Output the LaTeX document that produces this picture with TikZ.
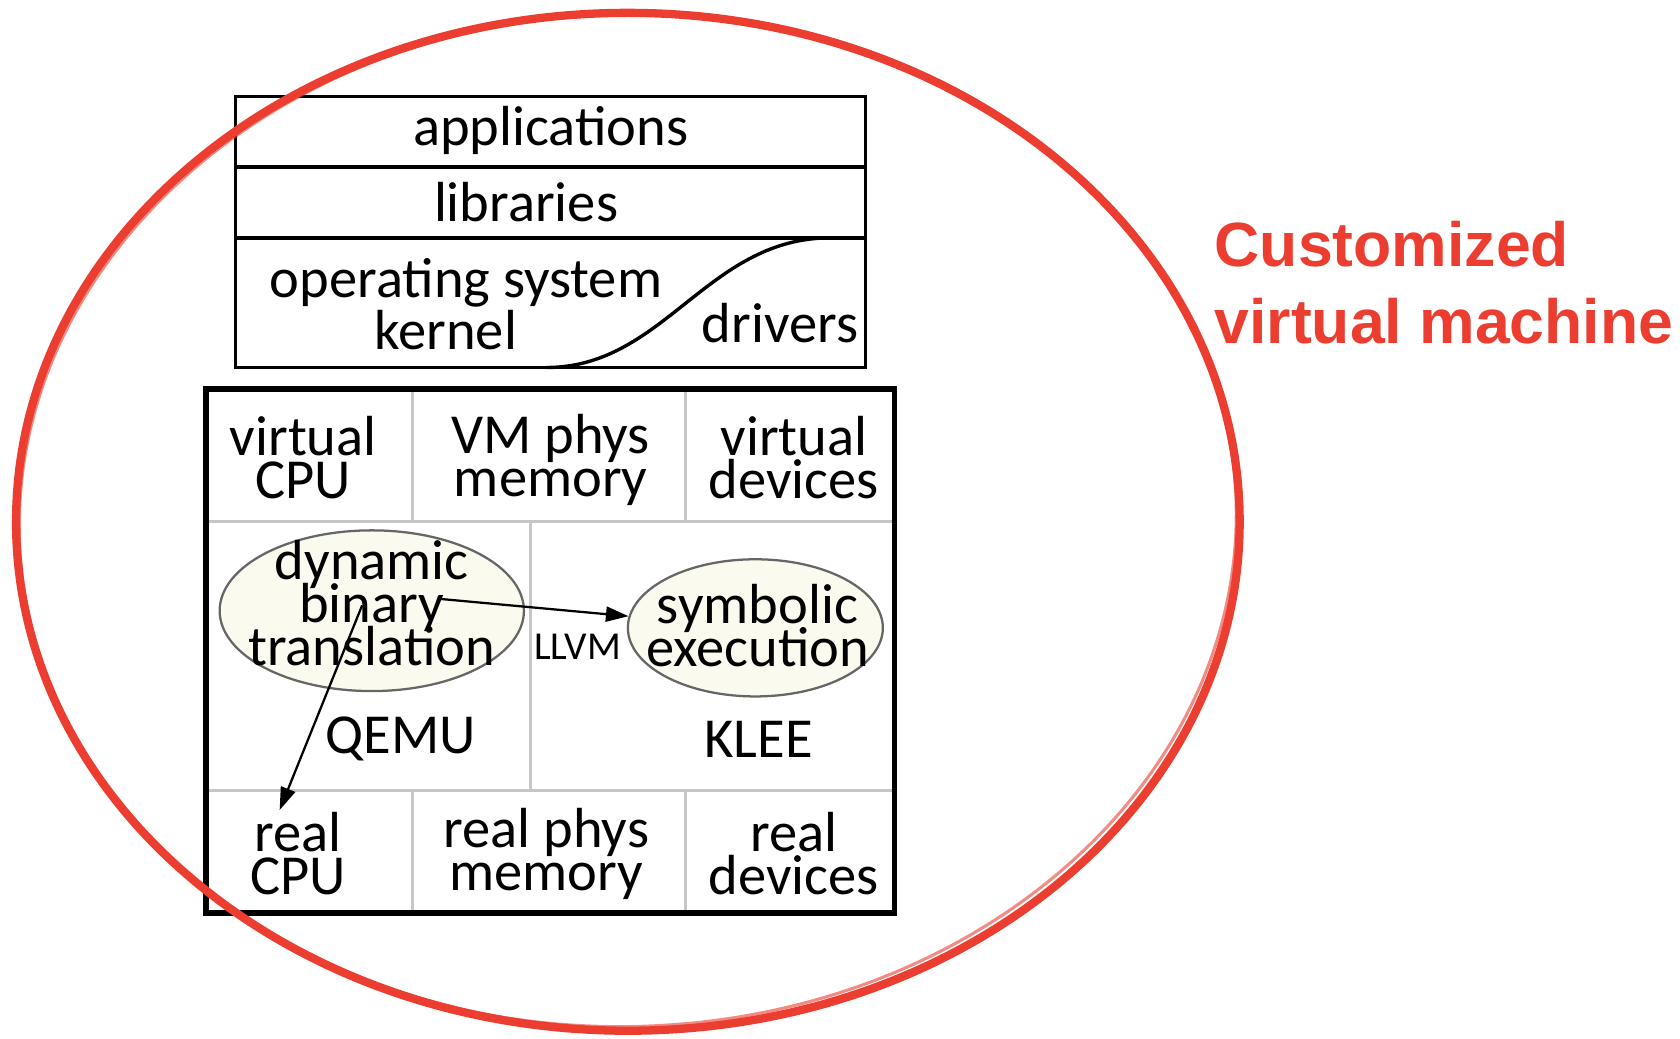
\documentclass[tikz,border=0pt]{standalone}
\usepackage{fontspec}
\setmainfont{Carlito}
\newfontfamily\headfont{Liberation Sans}
\usetikzlibrary{shapes.geometric,arrows.meta}
\definecolor{vmred}{RGB}{236,62,48}
\definecolor{eggshell}{RGB}{250,250,238}

\begin{document}
\begin{tikzpicture}[
  cell/.style={font={\fontsize{15}{11.5}\selectfont\lineskiplimit=-20pt},align=center,inner sep=0pt},
  small/.style={font=\fontsize{10.5}{12}\selectfont,inner sep=0pt},
  bubble/.style={ellipse,draw=gray!80!black,fill=eggshell,line width=0.6pt,inner sep=0pt},
  grid/.style={gray!45,line width=0.9pt},
  flow/.style={-{Triangle[length=6pt,width=4pt]},line width=0.6pt}
]
\useasboundingbox (0,0) rectangle (15.68,9.69);

% Guest software stack
\draw[line width=0.9pt] (2.20,6.26) rectangle (8.08,8.79);
\draw[line width=0.9pt] (2.20,8.13) -- (8.08,8.13);
\draw[line width=0.9pt] (2.20,7.47) -- (8.08,7.47);
\draw[line width=0.9pt] (5.10,6.26) .. controls (6.20,6.26) and (6.60,7.47) .. (7.75,7.47);
\node[cell] (apps) at (5.14,8.47) {applications};
\node[cell] (libs) at (4.91,7.80) {libraries};
\node[cell] (os) at (4.35,7.05) {operating system};
\node[cell] (kern) at (4.16,6.61) {kernel};
\node[cell] (drv) at (7.28,6.67) {drivers};

% S2E platform
\draw[grid] (1.92,4.82) -- (8.35,4.82);
\draw[grid] (1.92,2.31) -- (8.35,2.31);
\draw[grid] (3.85,4.82) -- (3.85,6.06);
\draw[grid] (6.40,4.82) -- (6.40,6.06);
\draw[grid] (4.95,2.31) -- (4.95,4.82);
\draw[grid] (3.85,1.17) -- (3.85,2.31);
\draw[grid] (6.40,1.17) -- (6.40,2.31);
\draw[line width=1.5pt] (1.92,1.17) rectangle (8.35,6.06);

% virtual hardware
\node[cell] (vcpu) at (2.83,5.42) {virtual\\CPU};
\node[cell] (vmem) at (5.14,5.40) {VM phys\\memory};
\node[cell] (vdev) at (7.41,5.42) {virtual\\devices};

% engines
\node[bubble,minimum width=2.84cm,minimum height=1.50cm] (dbt) at (3.47,3.99) {};
\node[cell] (dbttext) at (3.47,4.06) {dynamic\\binary\\translation};
\node[bubble,minimum width=2.38cm,minimum height=1.28cm] (symb) at (7.05,3.83) {};
\node[cell] (symbtext) at (7.07,3.85) {symbolic\\execution};
\node[small] (llvm) at (5.39,3.65) {LLVM};
\node[cell] (qemu) at (3.74,2.79) {QEMU};
\node[cell] (klee) at (7.08,2.79) {KLEE};

% real hardware
\node[cell] (rcpu) at (2.78,1.72) {real\\CPU};
\node[cell] (rmem) at (5.10,1.72) {real phys\\memory};
\node[cell] (rdev) at (7.41,1.72) {real\\devices};

% translation paths
\coordinate (tolvm) at (4.11,4.10);
\coordinate (tohw) at (3.38,4.04);
\coordinate (cpuin) at (2.61,2.13);
\draw[flow] (tolvm) -- (symb);
\draw[flow] (tohw) -- (cpuin);

% the customized VM
\draw[vmred,line width=2.2pt] (5.86,4.82) ellipse [x radius=5.71,y radius=4.75];
\draw[vmred,line width=0.8pt,opacity=0.6,rotate around={2:(5.86,4.82)}] (5.86,4.84) ellipse [x radius=5.68,y radius=4.73];
\node[anchor=west,align=left,inner sep=0pt,text=vmred,font={\headfont\bfseries\fontsize{16.6}{20.4}\selectfont}] (cvm) at (11.33,7.05) {Customized\\virtual machine};
\end{tikzpicture}
\end{document}
